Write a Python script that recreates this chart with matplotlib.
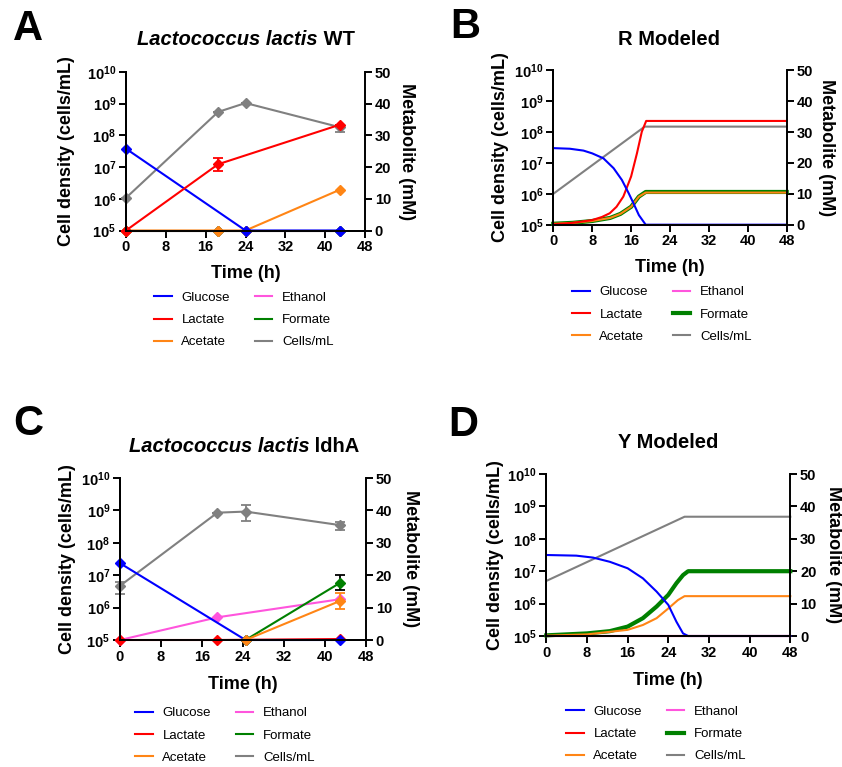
import numpy as np
import matplotlib
matplotlib.use('Agg')
import matplotlib.pyplot as plt
from matplotlib.lines import Line2D
from matplotlib.ticker import NullLocator

plt.rcParams['font.family'] = 'Liberation Sans'
plt.rcParams['mathtext.fontset'] = 'custom'
plt.rcParams['mathtext.rm'] = 'Liberation Sans'
plt.rcParams['mathtext.bf'] = 'Liberation Sans:bold'

col_glc = '#0000FF'
col_lac = '#FF0000'
col_ace = '#FF8515'
col_eth = '#FF55DD'
col_for = '#008000'
col_cel = '#808080'

# ---------------- A : L. lactis WT (measured) ----------------
a_time = [0, 18.5, 24, 43]
a_glc_t = [0, 24, 43]
a_glc = [25.8, 0, 0]
a_lac_t = [0, 18.5, 43]
a_lac = [0, 20.9, 33.4]
a_lac_err = [0, 2.0, 0]
a_ace = [0, 0, 0, 12.9]
a_eth = [0, 0, 0, 0]
a_for = [0, 0, 0, 0]
a_cells = [1.07e6, 5.5e8, 1.05e9, 1.8e8]
a_cells_lo = [1.07e6, 5.5e8, 1.05e9, 1.25e8]
a_cells_hi = [1.07e6, 5.5e8, 1.05e9, 2.1e8]

# ---------------- B : R modeled ----------------
b_glc_t = [0, 3.4, 6.2, 8, 10.3, 12.4, 14.1, 15.5, 16.5, 17.6, 19, 48]
b_glc = [24.8, 24.6, 24.0, 23.1, 21.5, 18.3, 14.5, 10.2, 6.9, 3.1, 0, 0]
b_lac_t = [0, 4, 8, 10, 11.6, 13, 14.4, 16, 17.2, 18.2, 19.1, 48]
b_lac = [0.1, 0.6, 1.5, 2.5, 3.7, 5.8, 9.1, 15.6, 23.1, 30.1, 33.6, 33.6]
b_ace_t = [0, 4, 8, 11.7, 13.8, 16, 17.6, 19, 48]
b_ace = [0.3, 0.6, 1.2, 2.2, 3.5, 5.8, 9.1, 10.4, 10.4]
b_for = [0.3, 0.6, 1.2, 2.2, 3.5, 5.8, 9.1, 10.6, 10.6]
b_eth_t = [0, 19, 48]
b_eth = [0, 0, 0]
b_cel_t = [0, 18.8, 48]
b_cells = [1.0e6, 1.5e8, 1.5e8]

# ---------------- C : L. lactis ldhA (measured) ----------------
c_time = [0, 19, 24.5, 43]
c_glc_t = [0, 24.5, 43]
c_glc = [23.7, 0, 0]
c_lac_t = [0, 19, 43]
c_lac = [0, 0, 0.3]
c_eth_t = [0, 19, 43]
c_eth = [0, 7.0, 12.6]
c_ace_t = [24.5, 43]
c_ace = [0, 12.1]
c_ace_err = [0, 2.4]
c_for_t = [24.5, 43]
c_for = [0, 17.7]
c_for_err = [0, 2.3]
c_cells = [4.7e6, 8.5e8, 9.2e8, 3.5e8]
c_cells_lo = [2.6e6, 8.5e8, 4.8e8, 2.5e8]
c_cells_hi = [6.3e6, 8.5e8, 1.47e9, 4.5e8]

# ---------------- D : Y modeled ----------------
d_glc_t = [0, 5.9, 9.2, 12.5, 16, 19, 21.7, 24, 25.6, 26.9, 27.9, 48]
d_glc = [25.0, 24.8, 24.2, 22.9, 20.9, 17.8, 13.7, 9.6, 4.4, 0.8, 0, 0]
d_for_t = [0, 8, 12.5, 16, 19, 21.7, 24, 25.6, 26.9, 27.9, 48]
d_for = [0.2, 0.8, 1.5, 2.9, 5.5, 9.1, 12.7, 16.3, 18.8, 20.0, 20.0]
d_ace_t = [0, 8, 16, 19, 21.7, 24, 25.9, 27.2, 48]
d_ace = [0.1, 0.5, 1.9, 3.4, 5.5, 8.5, 11.1, 12.3, 12.3]
d_flat_t = [0, 48]
d_lac = [0, 0]
d_eth = [0, 0]
d_cel_t = [0, 27.2, 48]
d_cells = [5.0e6, 4.8e8, 4.8e8]

names = ['Glucose', 'Lactate', 'Acetate', 'Ethanol', 'Formate', 'Cells/mL']
cols = [col_glc, col_lac, col_ace, col_eth, col_for, col_cel]

W, H = 842, 767
fig = plt.figure(figsize=(W / 100, H / 100), dpi=100)
LW = 1.5


def panel(l, t, r, b, yl_off, yr_off, xl_off):
    ax = fig.add_axes([l / W, 1 - b / H, (r - l) / W, (b - t) / H])
    ax2 = ax.twinx()
    ax.set_yscale('log')
    ax.set_ylim(1e5, 1e10)
    ax.set_xlim(0, 48)
    ax2.set_ylim(0, 50)
    ax.yaxis.set_minor_locator(NullLocator())
    exps = [5, 6, 7, 8, 9, 10]
    ax.set_yticks([10.0 ** k for k in exps],
                  labels=[r'$\mathbf{10^{%d}}$' % k for k in exps])
    ax.set_xticks(range(0, 49, 8), labels=[str(v) for v in range(0, 49, 8)],
                  fontweight='bold')
    ax2.set_yticks(range(0, 51, 10), labels=[str(v) for v in range(0, 51, 10)],
                   fontweight='bold')
    for a in (ax, ax2):
        a.spines['top'].set_visible(False)
        for s in a.spines.values():
            s.set_linewidth(1.4)
        a.tick_params(direction='out', length=5, width=1.4, labelsize=10.5, pad=2)
    ax.spines['right'].set_visible(False)
    ax.set_ylabel('Cell density (cells/mL)', fontsize=13, fontweight='bold')
    ax.yaxis.set_label_coords(-yl_off / (r - l), 0.5)
    ax2.set_ylabel('Metabolite (mM)', fontsize=13, fontweight='bold',
                   rotation=270, va='bottom')
    ax2.yaxis.set_label_coords(1 + yr_off / (r - l), 0.5)
    ax.set_xlabel('Time (h)', fontsize=13, fontweight='bold')
    ax.xaxis.set_label_coords(0.5, -xl_off / (b - t))
    return ax, ax2


def series(a, t, v, color, err=None, ecolor=None, marker='D', lw=LW):
    if err is not None:
        a.errorbar(t, v, yerr=err, color=color, ecolor=ecolor or color, lw=lw,
                   marker=marker, ms=5.5, capsize=3.5, elinewidth=1.3,
                   capthick=1.3, clip_on=False)
    else:
        a.plot(t, v, color=color, lw=lw, marker=marker, ms=5.5, clip_on=False)


def log_err(v, lo, hi):
    v = np.array(v)
    return [v - np.array(lo), np.array(hi) - v]


def title(parts, xc, yb):
    rend = fig.canvas.get_renderer()
    texts = []
    for s, style in parts:
        texts.append(fig.text(0, 0, s, fontsize=14.5, fontweight='bold',
                              style=style, va='baseline', ha='left',
                              transform=None))
    widths = [tx.get_window_extent(rend).width for tx in texts]
    x = xc - sum(widths) / 2
    for tx, w in zip(texts, widths):
        tx.set_position((x, H - yb))
        x += w


def legend(cx, cy, thick_formate):
    hs = []
    for n, c in zip(names, cols):
        lw = 3.0 if (thick_formate and n == 'Formate') else LW
        hs.append(Line2D([], [], color=c, lw=lw))
    fig.legend(hs, names, ncol=2, loc='center',
               bbox_to_anchor=(cx / W, 1 - cy / H), frameon=False,
               fontsize=9.5, handlelength=1.3, handletextpad=0.75,
               columnspacing=1.9, labelspacing=0.75)


def letter(s, x, yb):
    fig.text(x / W, 1 - yb / H, s, fontsize=30, fontweight='bold',
             va='baseline', ha='left')


# ---- A
ax, ax2 = panel(126, 72, 365, 230.5, 51, 33, 34)
series(ax, a_time, a_cells, col_cel, err=log_err(a_cells, a_cells_lo, a_cells_hi))
series(ax2, a_time, a_eth, col_eth)
series(ax2, a_time, a_for, col_for)
series(ax2, a_time, a_ace, col_ace)
series(ax2, a_lac_t, a_lac, col_lac, err=a_lac_err)
series(ax2, a_glc_t, a_glc, col_glc)
title([('Lactococcus lactis', 'italic'), (' WT', 'normal')], 246, 45)
legend(244, 320, False)
letter('A', 13, 40)

# ---- B
ax, ax2 = panel(553.3, 70.3, 786.7, 224.7, 44, 31, 34)
series(ax, b_cel_t, b_cells, col_cel, marker=None)
series(ax2, b_eth_t, b_eth, col_eth, marker=None)
series(ax2, b_ace_t, b_for, col_for, marker=None, lw=3.0)
series(ax2, b_ace_t, b_ace, col_ace, marker=None)
series(ax2, b_lac_t, b_lac, col_lac, marker=None)
series(ax2, b_glc_t, b_glc, col_glc, marker=None)
title([('R Modeled', 'normal')], 669.5, 45)
legend(662, 314.5, True)
letter('B', 450, 38)

# ---- C
ax, ax2 = panel(120, 478, 366, 640, 44, 36, 36)
series(ax, c_time, c_cells, col_cel, err=log_err(c_cells, c_cells_lo, c_cells_hi))
series(ax2, c_eth_t, c_eth, col_eth)
series(ax2, c_for_t, c_for, col_for, err=c_for_err, ecolor='black')
series(ax2, c_ace_t, c_ace, col_ace, err=c_ace_err)
series(ax2, c_lac_t, c_lac, col_lac)
series(ax2, c_glc_t, c_glc, col_glc)
title([('Lactococcus lactis', 'italic'), (' ldhA', 'normal')], 244, 451.7)
legend(225, 735.5, False)
letter('C', 13, 435)

# ---- D
ax, ax2 = panel(546.3, 474, 790.3, 636, 42, 35, 36)
series(ax, d_cel_t, d_cells, col_cel, marker=None)
series(ax2, d_flat_t, d_eth, col_eth, marker=None)
series(ax2, d_for_t, d_for, col_for, marker=None, lw=3.0)
series(ax2, d_ace_t, d_ace, col_ace, marker=None)
series(ax2, d_flat_t, d_lac, col_lac, marker=None)
series(ax2, d_glc_t, d_glc, col_glc, marker=None)
title([('Y Modeled', 'normal')], 668, 448)
legend(656, 734, True)
letter('D', 448, 436)

fig.savefig('out.png', dpi=100)
